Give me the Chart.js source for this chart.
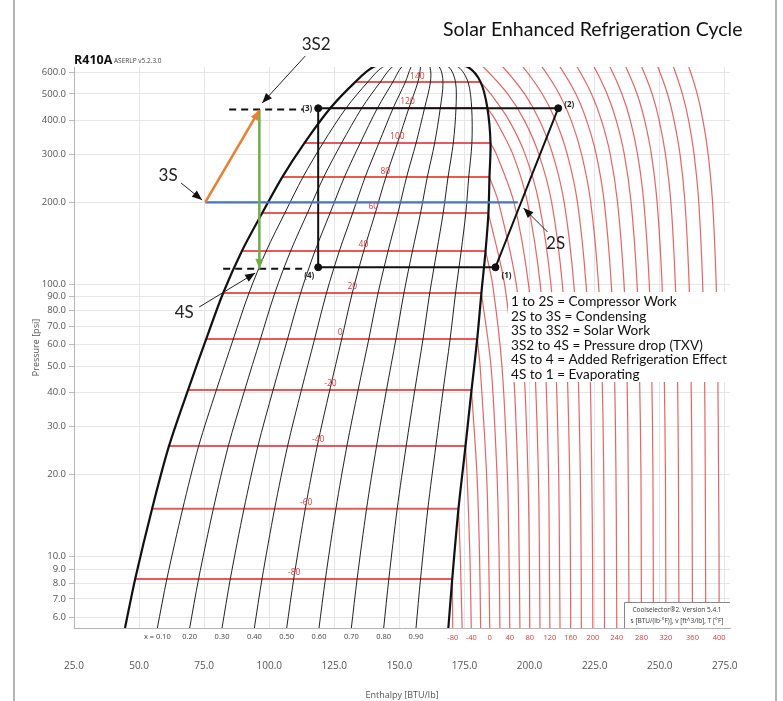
<!DOCTYPE html>
<html>
<head>
<meta charset="utf-8">
<script src="https://cdn.jsdelivr.net/npm/chart.js@4.4.1/dist/chart.umd.min.js"></script>
<style>
  body { margin: 0; background: #fff; }
  canvas { display: block; }
</style>
</head>
<body>
<canvas id="ph" width="783" height="701"></canvas>
<script>
// R410A saturation dome (psia, BTU/lb)
const satP    = [5.47, 8.28, 15.0, 25.5, 40.9, 63.0, 92.9, 132.6, 182.7, 247.6, 330.1, 443.9, 552.7, 628, 711];
const satLiqH = [44.6, 48.5, 55.0, 61.5, 68.8, 75.8, 82.3, 89.5, 97.3, 105.0, 113.5, 123.5, 133.0, 140.0, 158];
const satVapH = [168.8, 170.3, 172.7, 175.4, 177.7, 179.9, 181.5, 183.1, 184.2, 184.6, 185.0, 183.8, 181.2, 176.2, 158];

// isotherms inside the dome sit on satP[1..12]
const domeTemps  = [-80, -60, -40, -20, 0, 20, 40, 60, 80, 100, 120, 140];
const domeLabelH = [109.6, 114.2, 118.8, 123.5, 127.3, 131.9, 136.2, 140.0, 144.6, 149.2, 153.1, 156.9];

const qualities = [0.1, 0.2, 0.3, 0.4, 0.5, 0.6, 0.7, 0.8, 0.9];

// superheated isotherms: enthalpy at each pressure level (rows stop at the dome)
const shP = [5.47, 10, 20, 50, 100, 200, 300, 400, 500, 628, 711];
const shTemps = [-80, -60, -40, -20, 0, 20, 40, 60, 80, 100, 120, 140, 160, 180, 200, 220, 240, 260, 280, 300, 320, 340, 360, 380, 400];
const shH = [
  [170.5],
  [174.1, 173.4],
  [177.6, 177.1, 176.0],
  [181.2, 180.8, 179.8],
  [184.7, 184.3, 183.5, 181.0],
  [188.6, 188.3, 187.5, 185.2],
  [192.4, 192.1, 191.5, 189.4, 185.8],
  [196.3, 196.0, 195.5, 193.7, 190.4],
  [200.1, 199.9, 199.4, 197.8, 194.9, 188.1],
  [204.0, 203.8, 203.4, 202.0, 199.6, 194.0, 187.3],
  [207.8, 207.6, 207.3, 206.1, 204.1, 199.2, 193.6, 187.0],
  [211.7, 211.5, 211.2, 210.1, 208.2, 203.6, 198.3, 192.1, 185.1],
  [215.8, 215.7, 215.4, 214.4, 212.6, 208.5, 203.6, 198.0, 191.6, 182.3, 175.7],
  [219.9, 219.8, 219.5, 218.6, 217.0, 213.3, 208.9, 203.8, 198.1, 189.8, 183.8],
  [224.3, 224.2, 223.9, 223.2, 221.7, 218.4, 214.5, 210.0, 204.9, 197.5, 192.2],
  [228.8, 228.7, 228.5, 227.8, 226.5, 223.5, 220.0, 216.0, 211.4, 204.8, 200.0],
  [233.5, 233.4, 233.2, 232.6, 231.4, 228.7, 225.6, 221.9, 217.8, 211.7, 207.4],
  [238.2, 238.1, 237.9, 237.4, 236.3, 233.8, 231.0, 227.6, 223.8, 218.3, 214.4],
  [243.0, 242.9, 242.8, 242.2, 241.3, 239.0, 236.4, 233.3, 229.8, 224.8, 221.2],
  [247.6, 247.5, 247.4, 246.9, 246.0, 243.9, 241.5, 238.7, 235.5, 230.9, 227.5],
  [252.4, 252.3, 252.2, 251.7, 250.9, 249.0, 246.8, 244.2, 241.3, 237.0, 233.9],
  [257.4, 257.3, 257.2, 256.8, 256.0, 254.3, 252.2, 249.8, 247.1, 243.1, 240.3],
  [262.6, 262.5, 262.4, 262.0, 261.3, 259.7, 257.8, 255.5, 253.0, 249.3, 246.7],
  [267.7, 267.6, 267.5, 267.2, 266.5, 265.0, 263.2, 261.1, 258.7, 255.3, 252.9],
  [272.8, 272.8, 272.6, 272.3, 271.7, 270.3, 268.6, 266.6, 264.4, 261.2, 258.9]
];

// base cycle (3) -> (2) -> (1) -> (4) -> (3)
const cycleNames = ['(3)', '(2)', '(1)', '(4)'];
const cycleH = [118.8, 211.0, 186.9, 118.8];
const cycleP = [443, 443, 115.5, 115.5];

// solar states
const solarNames = ['3S', '3S2', '4S', '2S'];
const solarH = [75.4, 96.2, 96.2, 195.5];
const solarP = [200, 436, 114, 200];

// dashed extension lines
const dashFromH = [84.6, 82.3];
const dashToH   = [113.1, 113.1];
const dashP     = [438, 114];

const hTicks = [25, 50, 75, 100, 125, 150, 175, 200, 225, 250, 275];
const pTicks = [6, 7, 8, 9, 10, 20, 30, 40, 50, 60, 70, 80, 90, 100, 200, 300, 400, 500, 600];

const notes = [
  '1 to 2S = Compressor Work',
  '2S to 3S = Condensing',
  '3S to 3S2 = Solar Work',
  '3S2 to 4S = Pressure drop (TXV)',
  '4S to 4 = Added Refrigeration Effect',
  '4S to 1 = Evaporating'
];

function curve(points, color, width, order, extra) {
  return Object.assign({
    data: points, showLine: true, pointRadius: 0, borderColor: color,
    borderWidth: width, tension: 0.3, order: order, fill: false
  }, extra || {});
}

const datasets = [];

shTemps.forEach((t, i) => {
  const pts = shH[i].map((h, k) => ({ x: h, y: shP[k] }));
  const j = domeTemps.indexOf(t);
  if (j >= 0) pts.push({ x: satVapH[j + 1], y: satP[j + 1] });
  datasets.push(curve(pts, 'rgba(222,50,50,0.75)', 1.2, 60));
});

domeTemps.forEach((t, j) => {
  const p = satP[j + 1];
  datasets.push(curve([{ x: satLiqH[j + 1], y: p }, { x: satVapH[j + 1], y: p }],
    'rgba(232,70,70,0.9)', 2, 50, { tension: 0 }));
});

qualities.forEach(q => {
  const pts = satP.map((p, k) => ({ x: satLiqH[k] + q * (satVapH[k] - satLiqH[k]), y: p }));
  datasets.push(curve(pts, '#222', 1, 40));
});

const dome = satP.map((p, k) => ({ x: satLiqH[k], y: p }))
  .concat(satP.slice(0, -1).map((p, k) => ({ x: satVapH[k], y: p })).reverse());
datasets.push(curve(dome, '#111', 2.2, 30));

const cyc = cycleH.map((h, i) => ({ x: h, y: cycleP[i] }));
datasets.push(curve(cyc.concat([cyc[0]]), '#111', 2, 20, { tension: 0 }));
datasets.push({ data: cyc, showLine: false, pointRadius: 3.5, pointBackgroundColor: '#111', pointBorderColor: '#111', order: 1 });

dashP.forEach((p, i) => {
  datasets.push(curve([{ x: dashFromH[i], y: p }, { x: dashToH[i], y: p }], '#111', 2, 15,
    { tension: 0, borderDash: [7, 5] }));
});

datasets.push(curve([{ x: solarH[0], y: solarP[0] }, { x: solarH[3], y: solarP[3] }], '#4472c4', 2.2, 10, { tension: 0 }));
datasets.push(curve([{ x: solarH[0], y: solarP[0] }, { x: solarH[1], y: solarP[1] }], '#ed7d31', 2.5, 5, { tension: 0 }));
datasets.push(curve([{ x: solarH[1], y: solarP[1] }, { x: solarH[2], y: solarP[2] }], '#70ad47', 2.5, 5, { tension: 0 }));

// label offsets (px) from the tip of each pointer arrow
const pointers = [
  { text: '3S2', h: 97.3, p: 463, tx: 54, ty: -59, sx: 43, sy: -47 },
  { text: '3S', h: 74.2, p: 204, tx: -34, ty: -24, sx: -21, sy: -17 },
  { text: '2S', h: 197.7, p: 190.6, tx: 32, ty: 35, sx: 24, sy: 24 },
  { text: '4S', h: 94.6, p: 110, tx: -71, ty: 39, sx: -56, sy: 34 }
];

function head(c, x0, y0, x1, y1, len, wid, color) {
  const a = Math.atan2(y1 - y0, x1 - x0);
  c.save();
  c.fillStyle = color;
  c.beginPath();
  c.moveTo(x1, y1);
  c.lineTo(x1 - len * Math.cos(a) + wid / 2 * Math.sin(a), y1 - len * Math.sin(a) - wid / 2 * Math.cos(a));
  c.lineTo(x1 - len * Math.cos(a) - wid / 2 * Math.sin(a), y1 - len * Math.sin(a) + wid / 2 * Math.cos(a));
  c.closePath();
  c.fill();
  c.restore();
}

const decor = {
  id: 'decor',
  beforeDraw(chart) {
    const c = chart.ctx;
    c.save();
    c.fillStyle = '#fff';
    c.fillRect(0, 0, chart.width, chart.height);
    c.restore();
  },
  afterDatasetsDraw(chart) {
    const c = chart.ctx;
    const X = v => chart.scales.x.getPixelForValue(v);
    const Y = v => chart.scales.y.getPixelForValue(v);
    const area = chart.chartArea;
    c.save();

    // arrow heads on the solar path
    head(c, X(solarH[0]), Y(solarP[0]), X(solarH[1]), Y(solarP[1]), 10, 8, '#ed7d31');
    head(c, X(solarH[1]), Y(solarP[1]), X(solarH[2]), Y(solarP[2]), 10, 8, '#70ad47');

    // temperature labels inside the dome
    c.font = '8.5px "Open Sans"';
    c.fillStyle = '#e03c3c';
    c.textAlign = 'center';
    c.textBaseline = 'middle';
    domeTemps.forEach((t, j) => c.fillText(String(t), X(domeLabelH[j]), Y(satP[j + 1]) - 6));

    // cycle point names
    c.font = 'bold 8px "Open Sans"';
    c.fillStyle = '#222';
    const cx = cycleH.map(X), cy = cycleP.map(Y);
    c.textAlign = 'right'; c.fillText(cycleNames[0], cx[0] - 6, cy[0]);
    c.textAlign = 'left';  c.fillText(cycleNames[1], cx[1] + 6, cy[1] - 4);
    c.textAlign = 'left';  c.fillText(cycleNames[2], cx[2] + 6, cy[2] + 8);
    c.textAlign = 'right'; c.fillText(cycleNames[3], cx[3] - 4, cy[3] + 8);

    // labels under the plot
    c.font = '7.5px "Open Sans"';
    c.textAlign = 'center';
    c.fillStyle = '#444';
    qualities.forEach((q, i) => {
      const h = satLiqH[0] + q * (satVapH[0] - satLiqH[0]);
      c.fillText((i === 0 ? 'x = ' : '') + q.toFixed(2), X(h), area.bottom + 9);
    });
    c.fillStyle = '#e03c3c';
    shTemps.forEach((t, i) => {
      if (i % 2 === 0) c.fillText(String(t), X(shH[i][0]), area.bottom + 10);
    });

    // pointer annotations
    c.strokeStyle = '#222';
    c.lineWidth = 1;
    c.font = '17px Lato';
    c.fillStyle = '#222';
    pointers.forEach(a => {
      const x = X(a.h), y = Y(a.p);
      c.beginPath();
      c.moveTo(x + a.sx, y + a.sy);
      c.lineTo(x, y);
      c.stroke();
      head(c, x + a.sx, y + a.sy, x, y, 10, 8, '#111');
      c.fillText(a.text, x + a.tx, y + a.ty);
    });

    // explanation box
    c.fillStyle = '#fff';
    c.fillRect(508, 292, 222, 90);
    c.fillStyle = '#111';
    c.font = '13.6px Lato';
    c.textAlign = 'left';
    notes.forEach((s, i) => c.fillText(s, 511, 302 + i * 14.5));

    // software stamp
    c.fillStyle = '#fff';
    c.fillRect(624, 602, area.right - 624, area.bottom - 602);
    c.strokeStyle = '#888';
    c.beginPath();
    c.moveTo(624.5, area.bottom); c.lineTo(624.5, 602.5); c.lineTo(area.right, 602.5);
    c.stroke();
    c.fillStyle = '#333';
    c.font = '6.5px "Open Sans"';
    c.textAlign = 'center';
    c.fillText('Coolselector\u00ae2. Version 5.4.1', 677, 610);
    c.fillText('s [BTU/(lb\u00b7\u00b0F)], v [ft^3/lb], T [\u00b0F]', 677, 621);

    // refrigerant name
    c.textAlign = 'left';
    c.textBaseline = 'alphabetic';
    c.fillStyle = '#111';
    c.font = 'bold 12.5px "Open Sans"';
    c.fillText('R410A', 74, 64);
    c.font = '6.5px "Open Sans"';
    c.fillStyle = '#444';
    c.fillText('ASERLP v5.2.3.0', 114, 63);

    // title
    c.font = '19.5px Lato';
    c.fillStyle = '#111';
    c.textBaseline = 'middle';
    c.fillText('Solar Enhanced Refrigeration Cycle', 443, 30);

    // outer frame
    c.strokeStyle = '#9a9a9a';
    c.lineWidth = 1.5;
    c.beginPath();
    c.moveTo(14, 0); c.lineTo(14, chart.height);
    c.moveTo(776, 0); c.lineTo(776, chart.height);
    c.stroke();
    c.restore();
  }
};

new Chart(document.getElementById('ph'), {
  type: 'scatter',
  data: { datasets: datasets },
  options: {
    responsive: false,
    animation: false,
    layout: { padding: { top: 67, right: 53, left: 0, bottom: 0 } },
    plugins: { legend: { display: false }, tooltip: { enabled: false } },
    scales: {
      x: {
        type: 'linear',
        min: 25,
        max: 277,
        afterBuildTicks: s => { s.ticks = hTicks.map(v => ({ value: v })); },
        afterFit: s => { s.height = 73; },
        grid: { color: '#e6e6e6', drawTicks: false },
        border: { color: '#b5b5b5' },
        ticks: { padding: 32, color: '#555', font: { size: 10, family: 'Open Sans' }, callback: v => Number(v).toFixed(1) },
        title: { display: true, text: 'Enthalpy [BTU/lb]', color: '#555', font: { size: 9, family: 'Open Sans' }, padding: { top: 6, bottom: 0 } }
      },
      y: {
        type: 'logarithmic',
        min: 5.47,
        max: 628,
        afterBuildTicks: s => { s.ticks = pTicks.map(v => ({ value: v })); },
        afterFit: s => { s.width = 74; },
        grid: { color: '#e6e6e6', tickLength: 5, tickColor: '#bbb' },
        border: { color: '#b5b5b5' },
        ticks: { padding: 3, color: '#555', font: { size: 9.5, family: 'Open Sans' }, callback: v => Number(v).toFixed(1) },
        title: { display: true, text: 'Pressure [psi]', color: '#555', font: { size: 9, family: 'Open Sans' }, padding: { top: 31, bottom: 0 } }
      }
    }
  },
  plugins: [decor]
});
</script>
</body>
</html>
